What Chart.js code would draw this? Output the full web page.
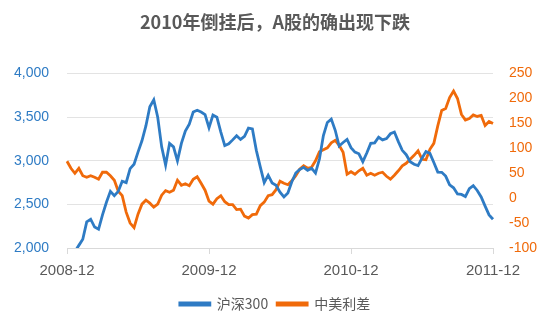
<!DOCTYPE html>
<html>
<head>
<meta charset="utf-8">
<script src="https://cdn.jsdelivr.net/npm/chart.js@4"></script>
<style>
  body { margin: 0; background: #fff; }
  #wrap { width: 550px; height: 330px; }
</style>
</head>
<body>
<div id="wrap"><canvas id="myChart"></canvas></div>
<script>
// x labels: three points per month, 2008-12 to 2011-12
const months = [];
for (let y = 2008, m = 12; y < 2011 || (y === 2011 && m <= 12); m++) {
  if (m > 12) { m = 1; y++; }
  months.push(y + '-' + String(m).padStart(2, '0'));
  if (y === 2011 && m === 12) break;
}
const labels = [];
months.forEach((mo, i) => {
  const n = i === months.length - 1 ? 1 : 3;
  for (let k = 0; k < n; k++) labels.push(mo);
});

const hs300 = [
  1830, 1900, 1960, 2030, 2100, 2300, 2330, 2240, 2215, 2380,
  2525, 2650, 2600, 2650, 2765, 2750, 2910, 2960, 3100, 3230,
  3400, 3620, 3700, 3500, 3160, 2950, 3200, 3160, 3000, 3200,
  3340, 3420, 3560, 3580, 3560, 3530, 3380, 3525, 3500, 3330,
  3175, 3195, 3240, 3288, 3245, 3280, 3375, 3365, 3120, 2930,
  2750, 2835, 2746, 2720, 2640, 2585, 2630, 2760, 2860, 2900,
  2925, 2890, 2915, 2860, 3020, 3290, 3440, 3478, 3350, 3170,
  3210, 3245, 3150, 3100, 3080, 2990, 3090, 3200, 3205, 3270,
  3240, 3255, 3310, 3330, 3220, 3120, 3070, 2990, 2960, 2945,
  3030, 3105, 3085, 2980, 2870, 2868, 2825, 2725, 2690, 2620,
  2614, 2590, 2680, 2715, 2660, 2585, 2480, 2380, 2330
];

const spread = [
  74, 60, 50, 60, 45, 42, 45, 42, 38, 52,
  52, 45, 36, 14, 5, -28, -50, -59, -32, -12,
  -4, -10, -18, -12, 6, 15, 12, 16, 36, 26,
  29, 25, 38, 43, 30, 16, -6, -12, -1, 5,
  -7, -13, -13, -23, -22, -36, -40, -33, -32, -15,
  -8, 5, 7, 17, 34, 30, 27, 35, 45, 58,
  65, 60, 62, 75, 93, 97, 101, 111, 116, 106,
  92, 48, 53, 48, 55, 60, 46, 50, 46, 50,
  52, 44, 38, 46, 55, 65, 70, 78, 86, 95,
  78, 77, 98, 110, 145, 176, 180, 202, 215, 200,
  168, 157, 160, 167, 164, 166, 146, 154, 150
];

const blue = '#2E7BC4';
const orange = '#F06A0A';
const grey = '#595959';

const ctx = document.getElementById('myChart');

new Chart(ctx, {
  type: 'line',
  data: {
    labels: labels,
    datasets: [{
      label: '沪深300',
      data: hs300,
      borderColor: blue,
      backgroundColor: blue,
      borderWidth: 2.8,
      pointRadius: 0,
      yAxisID: 'y'
    }, {
      label: '中美利差',
      data: spread,
      borderColor: orange,
      backgroundColor: orange,
      borderWidth: 2.8,
      pointRadius: 0,
      yAxisID: 'y1'
    }]
  },
  options: {
    responsive: true,
    maintainAspectRatio: false,
    animation: false,
    layout: { padding: { left: 0, right: 0, top: 0, bottom: 9 } },
    plugins: {
      title: {
        display: true,
        text: '2010年倒挂后，A股的确出现下跌',
        color: grey,
        font: { size: 18, weight: 'bold', family: '"Noto Sans CJK SC", "Noto Sans", sans-serif' },
        padding: { top: 11, bottom: 41 }
      },
      legend: {
        position: 'bottom',
        labels: {
          color: grey,
          boxWidth: 30,
          boxHeight: 2,
          padding: 9,
          font: { size: 14, family: '"Noto Sans CJK SC", "Liberation Sans", sans-serif' }
        }
      },
      tooltip: { enabled: false }
    },
    scales: {
      x: {
        afterBuildTicks: function(scale) {
          scale.ticks = scale.ticks.filter(t => t.value % 36 === 0);
        },
        ticks: {
          autoSkip: false,
          maxRotation: 0,
          padding: 8,
          color: grey,
          font: { size: 15, family: '"Liberation Sans", sans-serif' },
          callback: function(value) { return this.getLabelForValue(value); }
        },
        grid: {
          drawOnChartArea: false,
          color: '#d9d9d9',
          tickLength: 6
        },
        border: { color: '#d9d9d9' }
      },
      y: {
        position: 'left',
        min: 2000,
        max: 4000,
        afterFit: function(scale) { scale.width = 67; },
        ticks: {
          stepSize: 500,
          padding: 18,
          color: blue,
          font: { size: 14, family: '"Liberation Sans", sans-serif' }
        },
        grid: { color: '#e3e3e3', drawTicks: false },
        border: { display: false }
      },
      y1: {
        position: 'right',
        min: -100,
        max: 250,
        afterFit: function(scale) { scale.width = 57; },
        ticks: {
          stepSize: 50,
          padding: 16,
          color: orange,
          font: { size: 14, family: '"Liberation Sans", sans-serif' }
        },
        grid: { drawOnChartArea: false, drawTicks: false },
        border: { display: false }
      }
    }
  }
});
</script>
</body>
</html>
